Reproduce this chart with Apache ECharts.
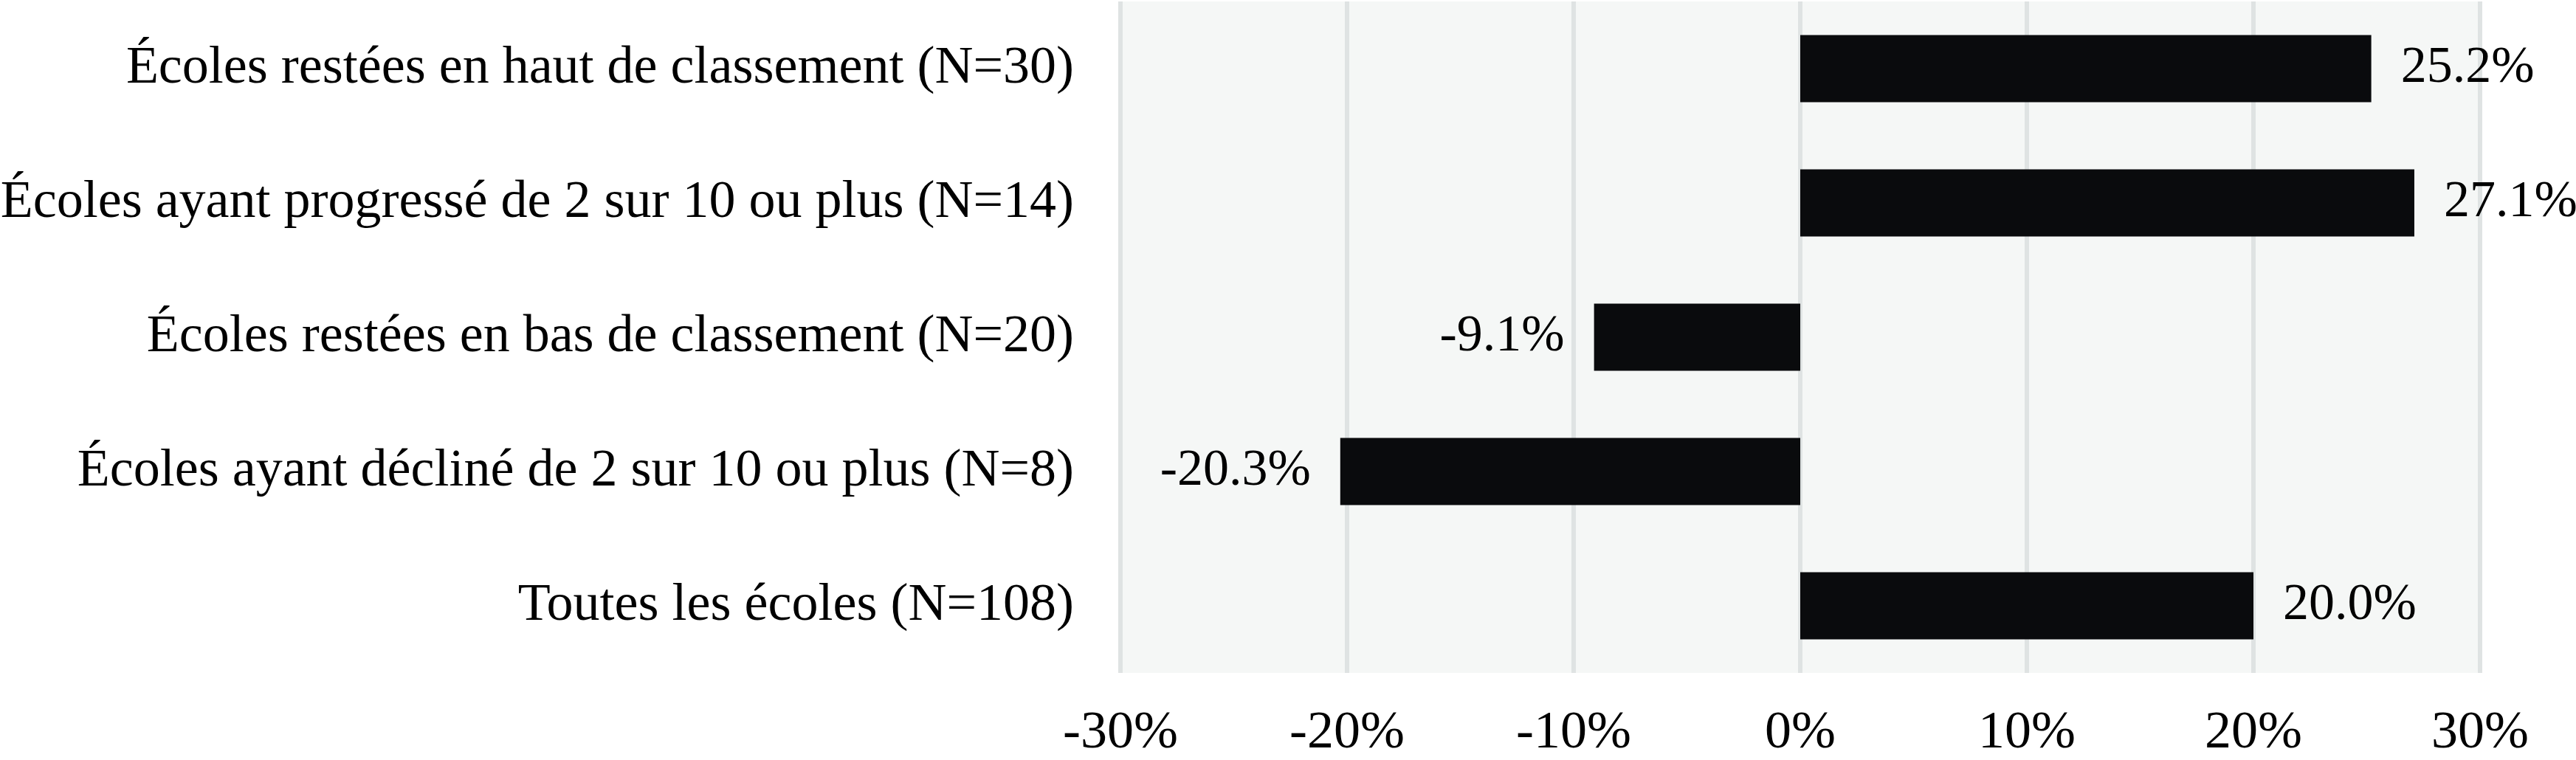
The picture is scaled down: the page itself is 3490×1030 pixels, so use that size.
<!DOCTYPE html>
<html>
<head>
<meta charset="utf-8">
<script src="https://cdn.jsdelivr.net/npm/echarts@6/dist/echarts.min.js"></script>
<style>
  html, body { margin: 0; padding: 0; background: #fff; }
  #chart { width: 3490px; height: 1030px; }
</style>
</head>
<body>
<div id="chart"></div>
<script>
// catégories (de haut en bas)
var categories = [
  'Écoles restées en haut de classement (N=30)',
  'Écoles ayant progressé de 2 sur 10 ou plus (N=14)',
  'Écoles restées en bas de classement (N=20)',
  'Écoles ayant décliné de 2 sur 10 ou plus (N=8)',
  'Toutes les écoles (N=108)'
];
// variation en %
var values = [25.2, 27.1, -9.1, -20.3, 20.0];
// graduations de l'axe
var tickMin = -30;
var tickMax = 30;
var tickStep = 10;

var font = 'Times New Roman';
var fs = 72;

var chart = echarts.init(document.getElementById('chart'));

// étiquette à droite pour les valeurs positives, à gauche pour les négatives
var barData = values.map(function (v) {
  return {
    value: v,
    label: { position: v < 0 ? 'left' : 'right' }
  };
});

var option = {
  animation: false,
  grid: {
    left: 1518,
    right: 130,
    top: 2,
    bottom: 118,
    outerBoundsMode: 'none',
    show: true,
    backgroundColor: '#f5f7f6',
    borderWidth: 0
  },
  xAxis: {
    type: 'value',
    min: tickMin,
    max: tickMax,
    interval: tickStep,
    axisLine: { show: false },
    axisTick: { show: false },
    axisLabel: {
      formatter: '{value}%',
      fontFamily: font,
      fontSize: fs,
      color: '#000',
      margin: 46
    },
    splitLine: { show: true, lineStyle: { color: '#dfe3e3', width: 6 } }
  },
  yAxis: {
    type: 'category',
    data: categories,
    inverse: true,
    axisLine: { show: false },
    axisTick: { show: false },
    axisLabel: {
      fontFamily: font,
      fontSize: fs,
      color: '#000',
      margin: 63
    }
  },
  series: [{
    type: 'bar',
    data: barData,
    barWidth: '50%',
    itemStyle: { color: '#0a0b0d' },
    label: {
      show: true,
      distance: 40,
      fontFamily: font,
      fontSize: 70,
      color: '#000',
      formatter: function (p) { return p.value.toFixed(1) + '%'; }
    }
  }]
};

chart.setOption(option);
</script>
</body>
</html>
